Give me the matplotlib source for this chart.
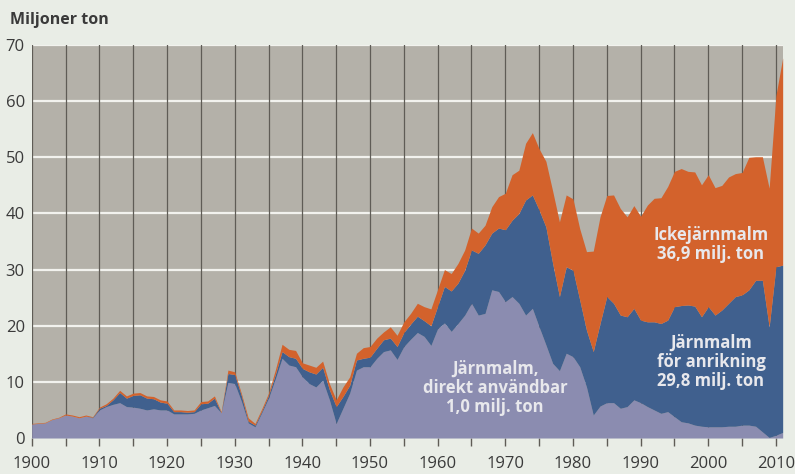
import matplotlib
matplotlib.use("Agg")
import matplotlib.pyplot as plt
import numpy as np

years = list(range(1900, 2012))

# Cumulative top of "Järnmalm, direkt användbar" (million tons)
direct_top = [
    2.5, 2.6, 2.7, 3.3, 3.6, 4.1, 3.9, 3.6, 3.9, 3.6,      # 1900-1909
    5.0, 5.6, 6.0, 6.3, 5.6, 5.5, 5.3, 5.0, 5.2, 5.0,      # 1910-1919
    5.0, 4.3, 4.3, 4.3, 4.4, 5.0, 5.4, 5.8, 4.5, 9.9,      # 1920-1929
    9.7, 6.5, 2.7, 2.0, 4.5, 7.1, 10.5, 14.2, 13.0, 12.7,  # 1930-1939
    10.9, 9.7, 9.1, 10.3, 6.8, 2.6, 5.3, 8.0, 12.1, 12.7,  # 1940-1949
    12.7, 14.2, 15.4, 15.7, 14.0, 16.3, 17.6, 18.8, 18.1, 16.5,  # 1950-1959
    19.5, 20.5, 19.0, 20.4, 21.9, 24.0, 21.9, 22.2, 26.4, 26.1,  # 1960-1969
    24.3, 25.2, 24.0, 21.9, 23.1, 19.8, 16.6, 13.3, 12.0, 15.1,  # 1970-1979
    14.5, 12.7, 9.1, 4.1, 5.7, 6.3, 6.3, 5.3, 5.6, 6.8,    # 1980-1989
    6.3, 5.6, 5.0, 4.4, 4.7, 3.8, 2.9, 2.7, 2.3, 2.1,      # 1990-1999
    2.0, 2.0, 2.0, 2.1, 2.1, 2.3, 2.3, 2.1, 1.1, 0.1,      # 2000-2009
    0.5, 1.0,                                              # 2010-2011
]

# Cumulative top of "Järnmalm för anrikning" (stacked on direct)
iron_top = [
    2.5, 2.6, 2.7, 3.3, 3.6, 4.1, 3.9, 3.6, 3.9, 3.7,
    5.3, 5.8, 6.8, 8.1, 7.1, 7.6, 7.7, 7.1, 7.0, 6.4,
    6.2, 4.7, 4.7, 4.6, 4.7, 6.1, 6.2, 7.1, 4.5, 11.5,
    11.3, 7.5, 3.0, 2.3, 4.8, 7.6, 11.3, 15.4, 14.5, 14.2,
    12.4, 11.8, 11.4, 12.6, 8.6, 5.6, 7.4, 9.4, 13.9, 14.2,
    14.4, 16.0, 17.5, 17.8, 16.3, 18.8, 20.3, 21.7, 20.9, 20.0,
    23.5, 27.0, 26.2, 27.6, 29.9, 33.5, 32.9, 34.4, 36.5, 37.4,
    37.1, 38.8, 40.0, 42.4, 43.3, 40.6, 37.6, 31.1, 25.2, 30.5,
    29.9, 24.6, 19.2, 15.4, 20.4, 25.2, 24.0, 21.9, 21.6, 23.1,
    21.0, 20.7, 20.7, 20.4, 21.0, 23.4, 23.6, 23.7, 23.5, 21.6,
    23.4, 21.9, 22.8, 24.0, 25.2, 25.5, 26.4, 28.1, 28.1, 19.8,
    30.5, 30.8,
]

# Total (top of "Ickejärnmalm")
total_top = [
    2.6, 2.7, 2.8, 3.4, 3.7, 4.3, 4.1, 3.8, 4.1, 3.8,
    5.5, 6.1, 7.1, 8.5, 7.5, 8.0, 8.1, 7.5, 7.4, 6.8,
    6.6, 5.0, 5.0, 4.9, 5.0, 6.5, 6.6, 7.5, 4.7, 12.1,
    11.8, 7.9, 3.6, 2.6, 5.2, 8.0, 12.1, 16.7, 15.8, 15.6,
    13.4, 13.0, 12.6, 13.7, 9.7, 6.8, 9.1, 10.9, 15.1, 16.1,
    16.3, 17.8, 18.9, 19.8, 18.3, 20.7, 22.2, 24.0, 23.4, 23.0,
    26.5, 30.0, 29.3, 31.1, 33.5, 37.4, 36.5, 37.9, 41.2, 43.0,
    43.6, 46.9, 47.7, 52.5, 54.4, 51.5, 49.3, 44.0, 38.5, 43.3,
    42.6, 37.3, 33.2, 33.3, 39.4, 43.2, 43.3, 40.9, 39.4, 41.4,
    39.5, 41.5, 42.7, 42.8, 44.8, 47.5, 48.0, 47.5, 47.4, 45.1,
    46.9, 44.6, 45.0, 46.5, 47.1, 47.3, 50.0, 50.1, 50.1, 44.5,
    61.0, 67.7,
]

xtick_labels = [str(y) for y in range(1900, 2011, 10)]
ytick_values = list(range(0, 71, 10))

fig_bg = "#e9ede6"
plot_bg = "#b4b1a9"
c_direct = "#8b8cb0"
c_iron = "#40608e"
c_other = "#d3622c"
txt_col = "#e8e8ec"

plt.rcParams['font.family'] = ['Open Sans', 'DejaVu Sans']

fig = plt.figure(figsize=(7.95, 4.74), dpi=100, facecolor=fig_bg)
ax = fig.add_axes([0.0399, 0.0759, 0.9446, 0.8291])
ax.set_facecolor(plot_bg)

x = np.array(years)
ax.fill_between(x, 0, direct_top, color=c_direct, lw=0, zorder=3)
ax.fill_between(x, direct_top, iron_top, color=c_iron, lw=0, zorder=3)
ax.fill_between(x, iron_top, total_top, color=c_other, lw=0, zorder=3)

ax.set_xlim(1900, 2011)
ax.set_ylim(0, 70)

for yv in ytick_values[1:]:
    ax.axhline(yv, color="#f2f2ee", lw=1.6, zorder=1)
for xv in range(1900, 2011, 5):
    ax.axvline(xv, color="#5f5c56", lw=0.9, zorder=2)

for s in ax.spines.values():
    s.set_visible(False)

ax.set_yticks(ytick_values)
ax.set_yticklabels([str(v) for v in ytick_values], fontsize=12, color="#3a3a3a")
ax.tick_params(axis='y', length=0, pad=5)

ax.set_xticks(range(1900, 2011, 10))
ax.set_xticklabels(xtick_labels, fontsize=12, color="#3a3a3a")
ax.set_xticks(range(1900, 2011, 5), minor=True)
ax.tick_params(axis='x', which='both', length=6, width=1, color="#5f5c56", pad=7)

fig.text(0.012, 0.958, "Miljoner ton", fontsize=11.5, fontweight='bold',
         color="#3a3a3a", ha='left', va='center')

ax.text(1968.5, 8.9, "Järnmalm,\ndirekt användbar\n1,0 milj. ton", fontsize=12,
        fontweight='bold', color=txt_col, ha='center', va='center',
        linespacing=1.08, zorder=5)
ax.text(2000.4, 13.6, "Järnmalm\nför anrikning\n29,8 milj. ton", fontsize=12,
        fontweight='bold', color=txt_col, ha='center', va='center',
        linespacing=1.08, zorder=5)
ax.text(2000.4, 34.4, "Ickejärnmalm\n36,9 milj. ton", fontsize=12,
        fontweight='bold', color=txt_col, ha='center', va='center',
        linespacing=1.08, zorder=5)

fig.savefig("out.png", dpi=100, facecolor=fig_bg)
